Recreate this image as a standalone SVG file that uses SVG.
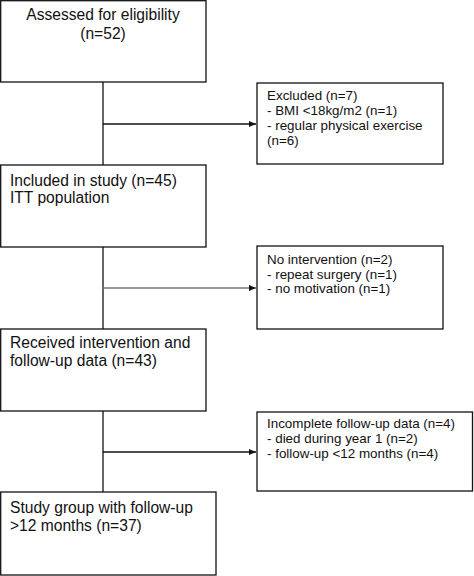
<svg xmlns="http://www.w3.org/2000/svg" width="474" height="576" viewBox="0 0 474 576">
<style>
.box{fill:#fff;stroke:#111;stroke-width:1.3}
.t{font-family:"Liberation Sans",Arial,sans-serif;font-size:15.6px;fill:#111}
.s{font-family:"Liberation Sans",Arial,sans-serif;font-size:13.4px;fill:#111}
.c{fill:none;stroke:#111;stroke-width:1.3}
</style>
<defs>
<marker id="ah" markerWidth="7" markerHeight="6" refX="7" refY="3" orient="auto" markerUnits="userSpaceOnUse">
<path d="M0,0 L7,3 L0,6 Z" fill="#111"/>
</marker>
</defs>
<rect width="474" height="576" fill="#fff"/>
<g id="connectors">
<line class="c" x1="103" y1="82" x2="103" y2="165"/>
<line class="c" x1="103" y1="124" x2="256" y2="124" marker-end="url(#ah)"/>
<line class="c" x1="103" y1="247" x2="103" y2="329"/>
<line class="c" x1="103" y1="288" x2="256" y2="288" stroke="#777" marker-end="url(#ah)" style="stroke:#777"/>
<line class="c" x1="103" y1="411" x2="103" y2="492"/>
<line class="c" x1="103" y1="452" x2="256" y2="452" marker-end="url(#ah)"/>
</g>
<g id="assessed">
<rect class="box" x="0.7" y="0.7" width="205.3" height="81.3"/>
<text class="t" x="103" y="20" text-anchor="middle">Assessed for eligibility</text>
<text class="t" x="103" y="38.5" text-anchor="middle">(n=52)</text>
</g>
<g id="excluded">
<rect class="box" x="257" y="83" width="186" height="81"/>
<text class="s" x="267" y="100">Excluded (n=7)</text>
<text class="s" x="267" y="115">- BMI &lt;18kg/m2 (n=1)</text>
<text class="s" x="267" y="130">- regular physical exercise</text>
<text class="s" x="267" y="145">(n=6)</text>
</g>
<g id="included">
<rect class="box" x="0.7" y="165" width="205.3" height="82"/>
<text class="t" x="10" y="185.5">Included in study (n=45)</text>
<text class="t" x="10" y="203">ITT population</text>
</g>
<g id="nointervention">
<rect class="box" x="257" y="246" width="186" height="83"/>
<text class="s" x="267" y="264">No intervention (n=2)</text>
<text class="s" x="267" y="278.5">- repeat surgery (n=1)</text>
<text class="s" x="267" y="293">- no motivation (n=1)</text>
</g>
<g id="received">
<rect class="box" x="0.7" y="329" width="205.3" height="82"/>
<text class="t" x="10" y="348">Received intervention and</text>
<text class="t" x="10" y="366">follow-up data (n=43)</text>
</g>
<g id="incomplete">
<rect class="box" x="257" y="412" width="215.5" height="79"/>
<text class="s" x="267" y="428">Incomplete follow-up data (n=4)</text>
<text class="s" x="267" y="443">- died during year 1 (n=2)</text>
<text class="s" x="267" y="458">- follow-up &lt;12 months (n=4)</text>
</g>
<g id="studygroup">
<rect class="box" x="0.7" y="492" width="215.3" height="83"/>
<text class="t" x="10" y="512.5">Study group with follow-up</text>
<text class="t" x="10" y="530.5">&gt;12 months (n=37)</text>
</g>
</svg>
